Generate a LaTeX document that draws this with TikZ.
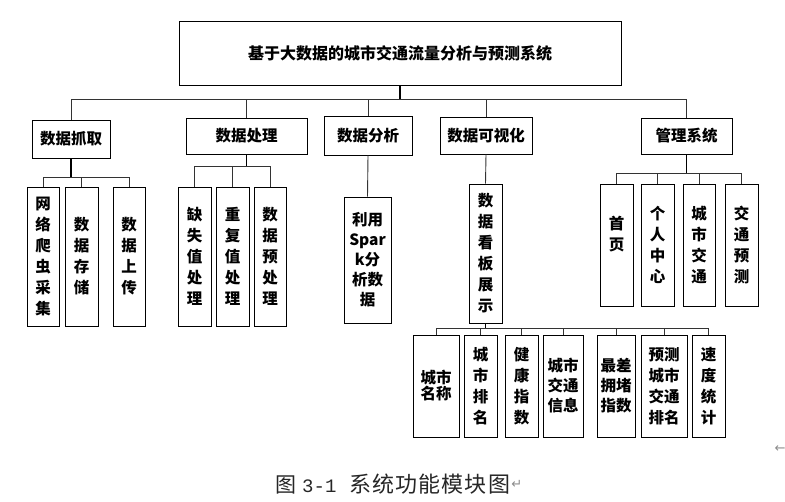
\documentclass[tikz,border=0pt]{standalone}
\usepackage{fontspec}
\setmainfont{Noto Sans CJK SC}
\newfontfamily\arrowfont{DejaVu Sans}
\newfontfamily\numfont{Liberation Mono}
\newfontfamily\capfont[LetterSpace=5]{Noto Sans CJK SC}
\begin{document}
\begin{tikzpicture}[x=1pt,y=-1pt,
  bx/.style={draw=black, line width=0.9pt, inner sep=0pt, align=center, font=\bfseries\fontsize{15.5}{21}\selectfont},
  wh/.style 2 args={minimum width=#1pt, minimum height=#2pt},
  ln/.style={line width=0.9pt, draw=black!80},
  stem/.style={line width=1.3pt, draw=black},
  retmark/.style={inner sep=0pt, text=black!45, font=\arrowfont\fontsize{#1}{#1}\selectfont}]
\useasboundingbox[fill=white] (0,0) rectangle (785,502);
% root
\node[bx, wh={442}{64}, font=\bfseries\fontsize{16}{20}\selectfont] (top) at (400,53) {基于大数据的城市交通流量分析与预测系统};
% level 1
\node[bx, wh={78}{38}] (grab) at (71,139) {数据抓取};
\node[bx, wh={121}{36}] (proc) at (246.5,136) {数据处理};
\node[bx, wh={88}{39}] (ana) at (368,135.5) {数据分析};
\node[bx, wh={92}{37}] (vis) at (486,135.5) {数据可视化};
\node[bx, wh={91}{36}] (mgmt) at (686.5,136) {管理系统};
% grab children
\node[bx, wh={32}{139}] (g1) at (43,256.5) {网\\络\\爬\\虫\\采\\集};
\node[bx, wh={33}{139}] (g2) at (81.5,256.5) {数\\据\\存\\储};
\node[bx, wh={32}{139}] (g3) at (129,256.5) {数\\据\\上\\传};
% proc children
\node[bx, wh={33}{139}] (p1) at (194.5,256.5) {缺\\失\\值\\处\\理};
\node[bx, wh={33}{139}] (p2) at (232.5,256.5) {重\\复\\值\\处\\理};
\node[bx, wh={32}{139}] (p3) at (270,256.5) {数\\据\\预\\处\\理};
% analysis child
\node[bx, wh={47}{126}, font=\bfseries\fontsize{15.5}{20}\selectfont] (a1) at (367.5,260) {利用\\Spar\\k分\\析数\\据};
% visual child
\node[bx, wh={33}{139}] (v1) at (485.5,253.5) {数\\据\\看\\板\\展\\示};
% management children
\node[bx, wh={33}{122}] (m1) at (616.5,245) {首\\页\\[3pt]~};
\node[bx, wh={33}{122}] (m2) at (657.5,245) {个\\人\\中\\心};
\node[bx, wh={32}{122}] (m3) at (699,245) {城\\市\\交\\通};
\node[bx, wh={33}{122}] (m4) at (741.5,245) {交\\通\\预\\测};
% bottom row
\node[bx, wh={46}{102}, font=\bfseries\fontsize{15.5}{16}\selectfont] (b1) at (436,386) {城市\\名称};
\node[bx, wh={33}{102}] (b2) at (480.5,386) {城\\市\\排\\名};
\node[bx, wh={33}{102}] (b3) at (521.5,386) {健\\康\\指\\数};
\node[bx, wh={40}{102}, font=\bfseries\fontsize{15.5}{20}\selectfont] (b4) at (563,386) {城市\\交通\\信息};
\node[bx, wh={38}{102}, font=\bfseries\fontsize{15.5}{20}\selectfont] (b5) at (616,386) {最差\\拥堵\\指数};
\node[bx, wh={46}{102}] (b6) at (664,386) {预测\\城市\\交通\\排名};
\node[bx, wh={33}{102}] (b7) at (708.5,386) {速\\度\\统\\计};
% connectors: root
\coordinate (b0) at (400,99);
\draw[stem] (top.south) -- (b0);
\foreach \n in {grab,proc,ana,vis,mgmt} \draw[ln] (b0) -| (\n.north);
% grab
\coordinate (bg) at ([yshift=-19pt]grab.south);
\draw[stem] (grab.south) -- (bg);
\foreach \n in {g1,g2,g3} \draw[ln] (bg) -| (\n.north);
% proc
\coordinate (bp) at ([yshift=-12pt]proc.south);
\draw[stem] (proc.south) -- (bp);
\foreach \n in {p1,p2,p3} \draw[ln] (bp) -| (\n.north);
% analysis, visual
\draw[ln] (ana.south) -- (a1.north);
\draw[ln] (vis.south) -- (v1.north);
% management
\coordinate (bm) at ([yshift=-19pt]mgmt.south);
\draw[stem] (mgmt.south) -- (bm);
\foreach \n in {m1,m2,m3,m4} \draw[ln] (bm) -| (\n.north);
% bottom
\coordinate (bv) at ([yshift=-5pt]v1.south);
\draw[stem] (v1.south) -- (bv);
\foreach \n in {b1,b2,b3,b4,b5,b6,b7} \draw[ln] (bv) -| (\n.north);
% caption
\node[anchor=west, inner sep=0pt, font=\fontsize{21}{24}\selectfont, text=black!85] (cap) at (275,484) {图\hspace{6pt}{\numfont\fontsize{19}{24}\selectfont 3-1}\hspace{13pt}{\capfont\fontsize{22}{24}\selectfont 系统功能模块图}};
\node[retmark=13, anchor=west] (ret1) at ([xshift=1pt]cap.east) {↵};
\node[retmark=13] (ret2) at (780,449) {←};
\end{tikzpicture}
\end{document}
